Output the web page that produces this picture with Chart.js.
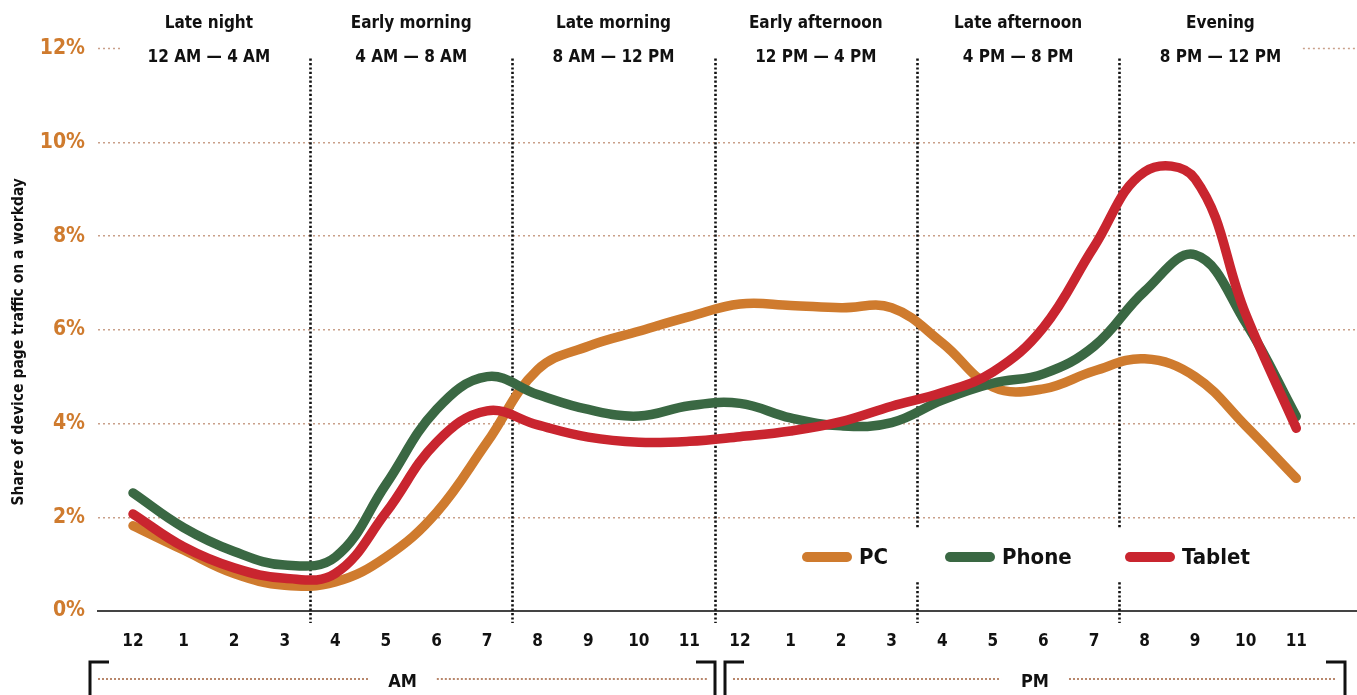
<!DOCTYPE html>
<html>
<head>
<meta charset="utf-8">
<title>Device page traffic by hour</title>
<script src="https://cdn.jsdelivr.net/npm/chart.js@4/dist/chart.umd.min.js"></script>
<style>
  html, body { margin: 0; padding: 0; background: #fff; overflow: hidden; }
  #wrap { width: 1357px; height: 695px; position: relative; }
</style>
</head>
<body>
<div id="wrap"><canvas id="c"></canvas></div>
<script>
// Hour of day (x axis) labels, midnight to 11 PM
const hourLabels = ['12','1','2','3','4','5','6','7','8','9','10','11',
                    '12','1','2','3','4','5','6','7','8','9','10','11'];
const hourIndex = hourLabels.map((_, i) => i);

// Share of each device's workday page traffic (%) per hour
const pcShare     = [1.82, 1.30, 0.80, 0.55, 0.62, 1.15, 2.10, 3.60, 5.15, 5.65, 5.97, 6.28,
                     6.55, 6.52, 6.47, 6.47, 5.72, 4.78, 4.74, 5.12, 5.38, 5.00, 3.95, 2.83];
const phoneShare  = [2.52, 1.78, 1.27, 0.98, 1.15, 2.70, 4.30, 5.00, 4.62, 4.30, 4.16, 4.38,
                     4.43, 4.12, 3.95, 4.02, 4.50, 4.86, 5.06, 5.65, 6.82, 7.60, 6.15, 4.15];
const tabletShare = [2.07, 1.37, 0.92, 0.70, 0.80, 2.10, 3.60, 4.27, 3.97, 3.71, 3.60, 3.62,
                     3.72, 3.84, 4.04, 4.37, 4.66, 5.10, 6.05, 7.77, 9.37, 9.22, 6.33, 3.90];

const seriesNames = ['PC', 'Phone', 'Tablet'];
const yTickValues = [0, 2, 4, 6, 8, 10, 12];
const yAxisTitle = 'Share of device page traffic on a workday';

// Day-part headers across the top
const sectionNames  = ['Late night', 'Early morning', 'Late morning', 'Early afternoon', 'Late afternoon', 'Evening'];
const sectionRanges = ['12 AM \u2014 4 AM', '4 AM \u2014 8 AM', '8 AM \u2014 12 PM', '12 PM \u2014 4 PM', '4 PM \u2014 8 PM', '8 PM \u2014 12 PM'];
const periodLabels  = ['AM', 'PM'];

const FONT = "'Liberation Sans Narrow', 'DejaVu Sans Condensed', 'Liberation Sans', sans-serif";
const ORANGE = '#cf7b2e';
const GREEN = '#3a6843';
const RED = '#c9252f';
const GRID = '#c9a08a';

const toPoints = arr => arr.map((v, i) => ({ x: hourIndex[i], y: v }));

const lineStyle = color => ({
  borderColor: color,
  backgroundColor: color,
  borderWidth: 9.5,
  borderCapStyle: 'round',
  borderJoinStyle: 'round',
  pointRadius: 0,
  pointHoverRadius: 0,
  tension: 0.4,
  fill: false
});

// Section dividers, headers, axis title, legend and AM/PM brackets
const decor = {
  id: 'decor',
  beforeDatasetsDraw(chart) {
    const { ctx, chartArea, scales: { x, y } } = chart;
    const yTop = y.getPixelForValue(12);
    const yZero = y.getPixelForValue(0);
    ctx.save();
    // the 12% line only shows at both ends, outside the header band
    ctx.strokeStyle = GRID;
    ctx.lineWidth = 1.5;
    ctx.setLineDash([2, 3]);
    ctx.beginPath();
    ctx.moveTo(chartArea.left, yTop);
    ctx.lineTo(chartArea.left + 25, yTop);
    ctx.moveTo(x.getPixelForValue(23.13), yTop);
    ctx.lineTo(chartArea.right, yTop);
    ctx.stroke();

    // dotted dividers between day parts
    ctx.strokeStyle = '#111';
    ctx.lineWidth = 2.6;
    ctx.setLineDash([2.2, 2.2]);
    for (let k = 1; k < sectionNames.length; k++) {
      const px = Math.round(x.getPixelForValue(4 * k - 0.5)) + 0.5;
      ctx.beginPath();
      ctx.moveTo(px, yTop + 10);
      ctx.lineTo(px, yZero + 12);
      ctx.stroke();
    }
    ctx.setLineDash([]);

    // headers
    ctx.fillStyle = '#111';
    ctx.textAlign = 'center';
    ctx.textBaseline = 'middle';
    ctx.font = 'bold 17px ' + FONT;
    sectionNames.forEach((name, k) => {
      const cx = x.getPixelForValue(4 * k + 1.5);
      ctx.fillText(name, cx, 24);
      ctx.fillText(sectionRanges[k], cx, 58);
    });

    // rotated y-axis title
    ctx.translate(19, (yTop + yZero) / 2 + 12);
    ctx.rotate(-Math.PI / 2);
    ctx.font = 'bold 15.5px ' + FONT;
    ctx.fillText(yAxisTitle, 0, 0);
    ctx.restore();
  },
  afterDatasetsDraw(chart) {
    const { ctx } = chart;
    ctx.save();
    // legend with white backing
    ctx.fillStyle = '#fff';
    ctx.fillRect(796, 528, 462, 53);
    const legendX = [802, 945, 1125];
    const ly = 557;
    ctx.font = 'bold 22px ' + FONT;
    ctx.textAlign = 'left';
    ctx.textBaseline = 'middle';
    chart.data.datasets.forEach((ds, i) => {
      ctx.strokeStyle = ds.borderColor;
      ctx.lineWidth = 10;
      ctx.lineCap = 'round';
      ctx.beginPath();
      ctx.moveTo(legendX[i] + 5, ly);
      ctx.lineTo(legendX[i] + 45, ly);
      ctx.stroke();
      ctx.fillStyle = '#111';
      ctx.fillText(ds.label, legendX[i] + 57, ly + 1);
    });
    ctx.restore();
  },
  afterDraw(chart) {
    const { ctx, scales: { x } } = chart;
    ctx.save();
    const top = 662, lineY = 679;
    const spans = [[-0.85, 11.51], [11.7, 23.97]];
    ctx.font = 'bold 18px ' + FONT;
    ctx.textAlign = 'center';
    ctx.textBaseline = 'middle';
    spans.forEach(([a, b], i) => {
      const l = Math.round(x.getPixelForValue(a));
      const r = Math.round(x.getPixelForValue(b));
      // bracket corners
      ctx.strokeStyle = '#111';
      ctx.lineWidth = 3;
      ctx.setLineDash([]);
      ctx.beginPath();
      ctx.moveTo(l + 19, top);
      ctx.lineTo(l, top);
      ctx.lineTo(l, 700);
      ctx.moveTo(r - 19, top);
      ctx.lineTo(r, top);
      ctx.lineTo(r, 700);
      ctx.stroke();
      // dotted rule with the period label in the middle
      const cx = (l + r) / 2;
      ctx.fillStyle = '#111';
      ctx.fillText(periodLabels[i], cx, lineY + 3);
      const half = ctx.measureText(periodLabels[i]).width / 2 + 20;
      ctx.strokeStyle = '#b8876c';
      ctx.lineWidth = 2;
      ctx.setLineDash([2, 2]);
      ctx.beginPath();
      ctx.moveTo(l + 8, lineY);
      ctx.lineTo(cx - half, lineY);
      ctx.moveTo(cx + half, lineY);
      ctx.lineTo(r - 8, lineY);
      ctx.stroke();
    });
    ctx.restore();
  }
};

new Chart(document.getElementById('c'), {
  type: 'line',
  data: {
    datasets: [
      Object.assign({ label: seriesNames[0], data: toPoints(pcShare), order: 3 }, lineStyle(ORANGE)),
      Object.assign({ label: seriesNames[1], data: toPoints(phoneShare), order: 2 }, lineStyle(GREEN)),
      Object.assign({ label: seriesNames[2], data: toPoints(tabletShare), order: 1 }, lineStyle(RED))
    ]
  },
  options: {
    responsive: true,
    maintainAspectRatio: false,
    animation: false,
    events: [],
    layout: { padding: { top: 48.6, left: 0, right: 0, bottom: 0 } },
    plugins: {
      legend: { display: false },
      tooltip: { enabled: false }
    },
    scales: {
      x: {
        type: 'linear',
        min: -0.692,
        max: 24.2,
        afterBuildTicks: s => { s.ticks = hourIndex.map(v => ({ value: v })); },
        afterFit: s => { s.height = 84; },
        grid: { display: false, drawTicks: false },
        border: { display: true, color: '#444', width: 2 },
        ticks: {
          autoSkip: false,
          maxRotation: 0,
          padding: 20,
          color: '#111',
          font: { family: FONT, size: 17, weight: 'bold' },
          callback: v => hourLabels[v]
        }
      },
      y: {
        min: 0,
        max: 12,
        afterBuildTicks: s => { s.ticks = yTickValues.map(v => ({ value: v })); },
        afterFit: s => { s.width = 98; },
        grid: {
          drawTicks: false,
          lineWidth: 1.5,
          color: c => (c.tick && (c.tick.value === 0 || c.tick.value === 12)) ? 'rgba(0,0,0,0)' : GRID
        },
        border: { display: false, dash: [2, 3] },
        ticks: {
          padding: 13,
          color: ORANGE,
          font: { family: FONT, size: 21, weight: 'bold' },
          callback: v => v + '%'
        }
      }
    }
  },
  plugins: [decor]
});
</script>
</body>
</html>
